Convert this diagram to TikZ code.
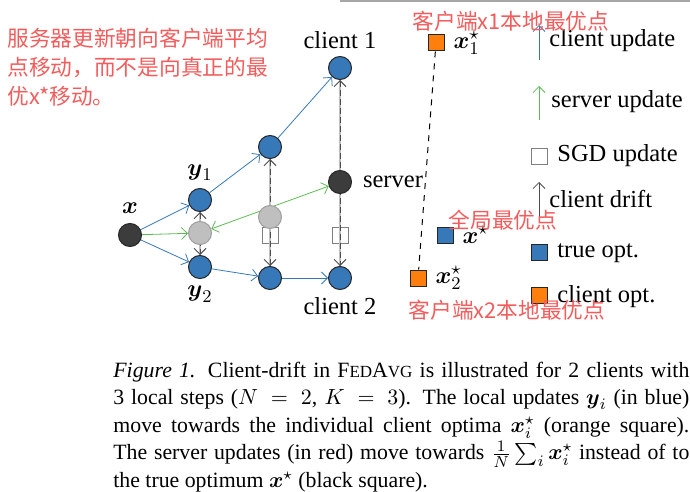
\documentclass[tikz,border=0pt]{standalone}
\usepackage{fontspec}
\setmainfont{Liberation Serif}
\newfontfamily\cjk{Noto Sans CJK SC}
\usepackage{amsmath}
\usetikzlibrary{positioning,arrows.meta,backgrounds}
\definecolor{cliblue}{HTML}{3778B8}
\definecolor{optorange}{HTML}{FF7F0E}
\definecolor{srvgreen}{HTML}{5DBB55}
\definecolor{dgray}{HTML}{3C3C3C}
\definecolor{notered}{HTML}{F25C5C}
\newcommand{\fakesc}[1]{{\fontsize{8.5}{9}\selectfont #1}}
\begin{document}
\begin{tikzpicture}[x=0.5pt, y=-0.5pt, font=\fontsize{12.25}{14}\selectfont,
      >={Straight Barb[length=3pt]},
      pt/.style={circle, draw=black!85, line width=0.5pt, minimum size=11.5pt, inner sep=0pt},
      cli/.style={pt, fill=cliblue},
      avg/.style={pt, draw=gray!75, fill=gray!50},
      srv/.style={pt, fill=dgray},
      sq/.style={draw=black!85, line width=0.5pt, minimum size=8pt, inner sep=0pt},
      sgd/.style={sq, draw=gray, fill=white},
      cu/.style={->, draw=cliblue, line width=0.4pt},
      su/.style={->, draw=srvgreen, line width=0.4pt},
      drift/.style={<->, draw=black!70, line width=0.5pt, dash pattern=on 3pt off 1.5pt,
                    preaction={draw=gray!50, line width=1.2pt, -}},
      note/.style={text=notered, font=\cjk\fontsize{10.85}{14.5}\selectfont, inner sep=0pt}]
    \useasboundingbox (0,0) rectangle (690,492);
    \draw[gray!70, line width=1pt] (340,1) -- (690,1);
    % points
    \node[srv] (x0) at (130,235) {};
    \node[cli] (y1) at (200,200) {};
    \node[avg] (a1) at (200,233) {};
    \node[cli] (y2) at (200,267) {};
    \node[cli] (b1) at (270,147) {};
    \node[avg] (a2) at (270,217) {};
    \node[cli] (b2) at (270,278) {};
    \node[cli] (c1) at (340,68) {};
    \node[srv] (s) at (340,182) {};
    \node[cli] (c2) at (340,278) {};
    \node[above=1pt of x0] (lx) {$\boldsymbol{x}$};
    \node[above=0pt of y1] (ly1) {$\boldsymbol{y}_1$};
    \node[below=0pt of y2] (ly2) {$\boldsymbol{y}_2$};
    \node[above=0pt of c1] (lc1) {client 1};
    \node[right=2pt of s] (ls) {server};
    \node[below=0pt of c2] (lc2) {client 2};
    \begin{scope}[on background layer]
      \node[sgd] (q2) at (270,235) {};
      \node[sgd] (q3) at (340,235) {};
      \draw[drift] (y1) -- (y2);
      \draw[drift] (b1) -- (b2);
      \draw[drift] (c1) -- (c2);
      \draw[cu] (x0) -- (y1);
      \draw[cu] (x0) -- (y2);
      \draw[cu] (y1) -- (b1);
      \draw[cu] (b1) -- (c1);
      \draw[cu] (y2) -- (b2);
      \draw[cu] (b2) -- (c2);
      \draw[su] (x0) -- (a1);
      \draw[su, <->] (a1) -- (s);
    \end{scope}
    % optima
    \node[sq, fill=optorange] (o1) at (436,43) {};
    \node[sq, fill=optorange] (o2) at (418,278) {};
    \node[sq, fill=cliblue] (ot) at (445,235) {};
    \draw[dashed, line width=0.5pt] (o1) -- (o2);
    \node[right=1pt of o1] (lo1) {$\boldsymbol{x}_1^\star$};
    \node[right=1pt of o2] (lo2) {$\boldsymbol{x}_2^\star$};
    \node[right=1pt of ot] (lot) {$\boldsymbol{x}^\star$};
    % legend
    \coordinate (gcu) at (539,60);
    \coordinate (gsu) at (539,120);
    \coordinate (gdr) at (539,217);
    \draw[cu] (gcu) -- ++(0,-35);
    \draw[su] (gsu) -- ++(0,-34);
    \draw[->, draw=black!70, line width=0.4pt] (gdr) -- ++(0,-35);
    \node[sgd] (gsgd) at (539,156) {};
    \node[sq, fill=cliblue] (gtrue) at (539,252) {};
    \node[sq, fill=optorange] (gopt) at (539,295) {};
    \node[anchor=base west, inner sep=0pt] (tcu) at (549,47) {client update};
    \node[anchor=base west, inner sep=0pt] (tsu) at (551,108) {server update};
    \node[anchor=base west, inner sep=0pt] (tsgd) at (557,162) {SGD update};
    \node[anchor=base west, inner sep=0pt] (tdr) at (549,207) {client drift};
    \node[anchor=base west, inner sep=0pt] (ttrue) at (557,257) {true opt.};
    \node[anchor=base west, inner sep=0pt] (topt) at (557,302) {client opt.};
    % notes
    \node[note, anchor=west, align=left] (n0) at (7,67) {服务器更新朝向客户端平均\\点移动，而不是向真正的最\\优x*移动。};
    \node[note] (n1) at (511,21) {客户端x1本地最优点};
    \node[note] (n2) at (503,220) {全局最优点};
    \node[note] (n3) at (507,310) {客户端x2本地最优点};
    % caption
    \node[anchor=base west, text width=288pt, align=justify, inner sep=0pt,
          font=\fontsize{10.9}{13.8}\selectfont] (cap) at (113,377)
      {\textit{Figure 1.} Client-drift in F\fakesc{ED}A\fakesc{VG} is illustrated for 2 clients with\linebreak
       3 local steps ($N\,=\,2$, $K\,=\,3$). The local updates $\boldsymbol{y}_i$ (in blue)\linebreak
       move towards the individual client optima $\boldsymbol{x}_i^\star$ (orange square).\linebreak
       The server updates (in red) move towards $\frac{1}{N}\sum_i \boldsymbol{x}_i^\star$ instead of to\linebreak
       the true optimum $\boldsymbol{x}^\star$ (black square).};
\end{tikzpicture}
\end{document}
